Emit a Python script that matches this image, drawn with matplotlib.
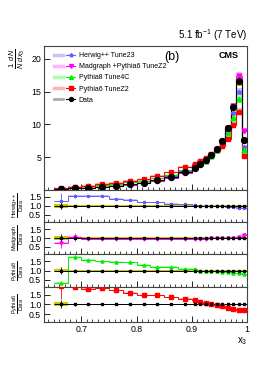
import numpy as np
import matplotlib.pyplot as plt
from matplotlib.lines import Line2D
from matplotlib.legend_handler import HandlerTuple
from matplotlib.ticker import MultipleLocator

plt.rcParams['font.family'] = ['Liberation Sans', 'DejaVu Sans']
plt.rcParams['mathtext.fontset'] = 'custom'
plt.rcParams['mathtext.rm'] = 'Liberation Sans'
plt.rcParams['mathtext.it'] = 'Liberation Sans:italic'

# bin edges in x3
edges = [0.65, 0.675, 0.70, 0.725, 0.75, 0.775, 0.80, 0.825, 0.85, 0.875,
         0.90, 0.91, 0.92, 0.93, 0.94, 0.95, 0.96, 0.97, 0.98, 0.99, 1.00]

# 1/N dN/dx3 for data
data = [0.15, 0.25, 0.35, 0.5, 0.65, 0.85, 1.1, 1.45, 1.95, 2.7,
        3.3, 3.95, 4.55, 5.4, 6.3, 7.4, 9.4, 12.7, 16.6, 7.6]
data_ratio_err = [0.2, 0.06, 0.04, 0.03, 0.03, 0.03, 0.03, 0.02, 0.02, 0.02,
                  0.02, 0.02, 0.02, 0.02, 0.02, 0.02, 0.02, 0.02, 0.02, 0.02]
data_sys = [0.1, 0.03, 0.03, 0.03, 0.03, 0.03, 0.03, 0.03, 0.03, 0.03,
            0.03, 0.03, 0.03, 0.03, 0.03, 0.03, 0.03, 0.03, 0.03, 0.03]

# MC / Data ratios
herwig_ratio = [1.25, 1.55, 1.55, 1.55, 1.4, 1.35, 1.2, 1.2, 1.1, 1.08,
                1.03, 1.0, 0.98, 0.98, 0.97, 0.97, 0.96, 0.92, 0.9, 0.86]
herwig_err = [0.45, 0.1, 0.06, 0.05, 0.04, 0.04, 0.04, 0.03, 0.03, 0.03,
              0.03, 0.03, 0.03, 0.03, 0.03, 0.03, 0.03, 0.03, 0.03, 0.03]
madgraph_ratio = [0.72, 1.05, 0.97, 0.97, 0.96, 0.93, 0.92, 0.92, 0.93, 0.94,
                  0.95, 0.96, 0.97, 0.98, 0.99, 1.0, 1.0, 1.01, 1.05, 1.18]
madgraph_err = [0.25, 0.22, 0.06, 0.05, 0.04, 0.04, 0.04, 0.03, 0.03, 0.03,
                0.03, 0.03, 0.03, 0.03, 0.03, 0.03, 0.03, 0.03, 0.03, 0.05]
pythia8_ratio = [0.33, 1.75, 1.58, 1.5, 1.48, 1.45, 1.3, 1.22, 1.2, 1.1,
                 1.08, 1.0, 0.98, 0.97, 0.96, 0.94, 0.92, 0.87, 0.84, 0.8]
pythia8_err = [0.05, 0.12, 0.08, 0.05, 0.04, 0.04, 0.04, 0.03, 0.03, 0.03,
               0.03, 0.03, 0.03, 0.03, 0.03, 0.03, 0.03, 0.03, 0.03, 0.03]
pythia6_ratio = [1.93, 1.9, 1.8, 1.83, 1.73, 1.6, 1.46, 1.46, 1.37, 1.28,
                 1.2, 1.11, 1.06, 1.02, 0.96, 0.9, 0.83, 0.78, 0.72, 0.69]
pythia6_err = [0.65, 0.05, 0.04, 0.04, 0.04, 0.04, 0.03, 0.03, 0.03, 0.03,
               0.03, 0.03, 0.03, 0.03, 0.03, 0.03, 0.03, 0.03, 0.03, 0.03]

edges = np.array(edges)
centers = 0.5 * (edges[:-1] + edges[1:])
widths = np.diff(edges)
data = np.array(data)

series = [
    ('Herwig++ Tune23', np.array(herwig_ratio), np.array(herwig_err), '#6060ff', '#c4c4ff', '*', r'$\frac{\mathrm{Herwig{+}{+}}}{\mathrm{Data}}$'),
    ('Madgraph +Pythia6 TuneZ2', np.array(madgraph_ratio), np.array(madgraph_err), '#ff00ff', '#ffb4ff', 'v', r'$\frac{\mathrm{Madgraph}}{\mathrm{Data}}$'),
    ('Pythia8 Tune4C', np.array(pythia8_ratio), np.array(pythia8_err), '#00ee00', '#a8ffa8', '^', r'$\frac{\mathrm{Pythia8}}{\mathrm{Data}}$'),
    ('Pythia6 TuneZ2', np.array(pythia6_ratio), np.array(pythia6_err), '#ff0000', '#ffb4b4', 's', r'$\frac{\mathrm{Pythia6}}{\mathrm{Data}}$'),
]


def draw(ax, vals, errs, band, color, light, marker, ms, lw=0.8):
    ax.bar(edges[:-1], 2 * band, bottom=vals - band, width=widths, align='edge',
           color=light, linewidth=0, zorder=1)
    ax.stairs(vals, edges, color=color, linewidth=lw, baseline=None, zorder=2)
    ax.errorbar(centers, vals, yerr=errs, fmt=marker, color=color, ms=ms,
                elinewidth=0.6, capsize=0, zorder=3)


def style(ax):
    ax.set_xlim(0.632, 1.0)
    ax.tick_params(direction='in', labelsize=6.3, length=4, width=0.6, pad=2)
    ax.tick_params(which='minor', direction='in', length=2, width=0.5)
    ax.xaxis.set_major_locator(MultipleLocator(0.1))
    ax.xaxis.set_minor_locator(MultipleLocator(0.01))
    for s in ax.spines.values():
        s.set_linewidth(0.8)
        s.set_color('#444444')


fig = plt.figure(figsize=(2.66, 3.76), dpi=100)
left, width = 0.165, 0.764

ax = fig.add_axes([left, 0.495, width, 0.383])
style(ax)
ax.set_ylim(0, 22)
ax.set_yticks([5, 10, 15, 20])
ax.tick_params(labelbottom=False)

handles = []
for name, ratio, err, color, light, marker, _ in series:
    draw(ax, data * ratio, data * err * 0.2, data * 0.03 + 0.05, color, light, marker, 3.5)
    handles.append((Line2D([], [], color=light, lw=2.5),
                    Line2D([], [], color=color, lw=0.8, marker=marker, ms=2.8)))
draw(ax, data, data * 0.02, data * 0.04 + 0.05, 'black', '#c8c800', 'o', 4.2)
handles.append((Line2D([], [], color='#aaaaaa', lw=2),
                Line2D([], [], color='black', lw=0.8, marker='o', ms=2.8)))

ax.legend(handles, [s[0] for s in series] + ['Data'],
          handler_map={tuple: HandlerTuple(ndivide=None)},
          loc='upper left', bbox_to_anchor=(0.02, 1.0), frameon=False,
          fontsize=5, handlelength=3.0, handletextpad=0.5, labelspacing=0.6,
          borderpad=0.4)
ax.text(0.63, 0.92, '(b)', transform=ax.transAxes, fontsize=9, ha='center', va='center')
ax.text(0.96, 0.93, 'CMS', transform=ax.transAxes, fontsize=6.5, fontweight='bold',
        ha='right', va='center')
ax.text(1.0, 1.02, r'5.1 fb$^{-1}$ (7 TeV)', transform=ax.transAxes, fontsize=7,
        ha='right', va='bottom')
ax.set_ylabel(r'$\frac{1}{N}\,\frac{dN}{dx_3}$', fontsize=7.5, loc='top')
ax.yaxis.set_label_coords(-0.085, 0.98)

bottoms = [0.410, 0.324, 0.237, 0.144]
heights = [0.085, 0.086, 0.087, 0.093]
for i, (name, ratio, err, color, light, marker, label) in enumerate(series):
    rax = fig.add_axes([left, bottoms[i], width, heights[i]])
    style(rax)
    rax.set_ylim(0.1, 1.9)
    rax.set_yticks([0.5, 1.0, 1.5])
    rax.set_yticklabels(['0.5', '1.0', '1.5'])
    draw(rax, ratio, err, np.full(len(ratio), 0.035), color, light, marker, 2.2, lw=0.7)
    draw(rax, np.ones(len(data)), np.array(data_ratio_err), np.array(data_sys),
         'black', '#c8c800', 's', 1.5, lw=0.7)
    rax.set_ylabel(label, fontsize=5.6)
    rax.yaxis.set_label_coords(-0.088, 0.5)
    if i < 3:
        rax.tick_params(labelbottom=False)
    else:
        rax.set_xticks([0.7, 0.8, 0.9, 1.0])
        rax.set_xticklabels(['0.7', '0.8', '0.9', '1'])
        rax.set_xlabel(r'x$_3$', fontsize=7, loc='right', labelpad=1)

fig.savefig('out.png', dpi=100)
